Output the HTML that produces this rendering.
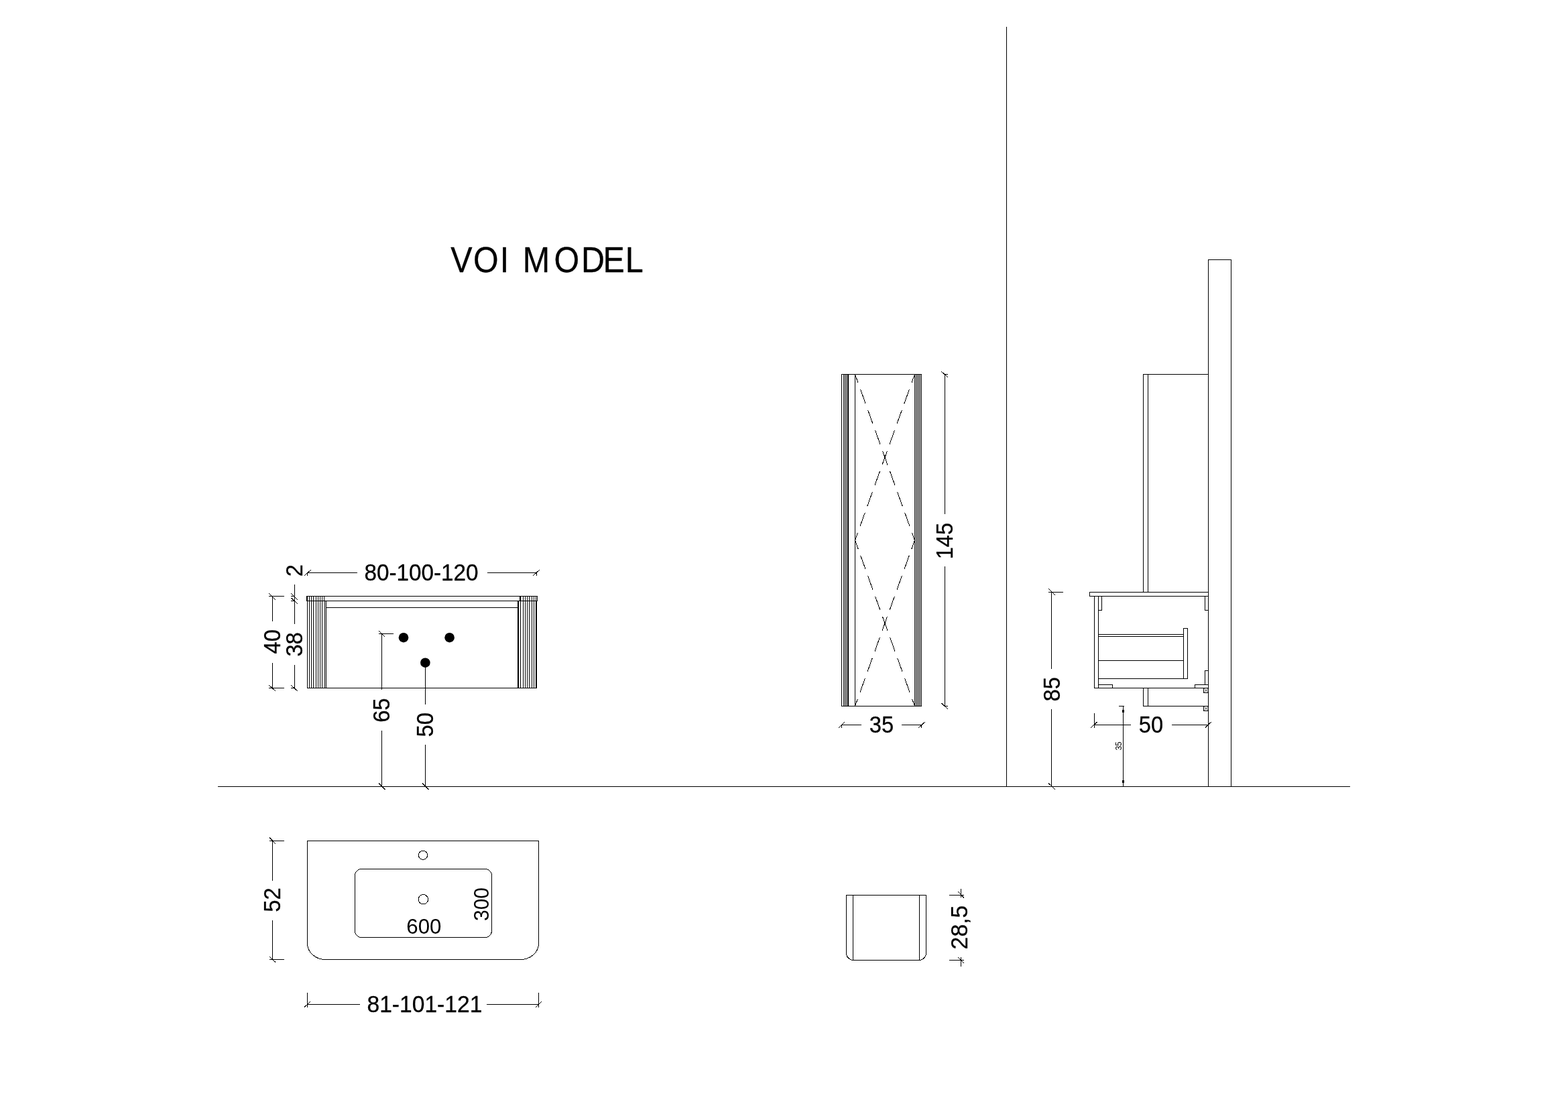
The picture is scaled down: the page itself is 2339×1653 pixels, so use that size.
<!DOCTYPE html>
<html lang="en">
<head>
<meta charset="utf-8">
<title>VOI MODEL</title>
<style>
html,body{margin:0;padding:0;background:#fff;}
body{width:2339px;height:1653px;overflow:hidden;}
svg{display:block;will-change:transform;}
svg line{stroke:#000;stroke-width:1;shape-rendering:crispEdges;fill:none;}
svg line.d{shape-rendering:crispEdges;}
svg .f{fill:#000;shape-rendering:crispEdges;}
svg path,svg circle.o,svg rect.o{stroke:#000;stroke-width:1;fill:none;shape-rendering:crispEdges;}
svg text{font-family:"Liberation Sans",sans-serif;font-size:100px;fill:#000;stroke:#000;stroke-width:0.3px;vector-effect:non-scaling-stroke;stroke-linejoin:round;}
svg text.n{stroke:none;}
</style>
</head>
<body>
<svg width="2339" height="1653" viewBox="0 0 2339 1653">
<rect x="0" y="0" width="2339" height="1653" fill="#fff"/>
<!-- title -->
<text transform="translate(0 405.51) scale(0.4845 0.5371)" x="1387.3 1457.4 1539.4 1574.3 1609.2 1705.8 1789.6 1856.8 1925.3">VOI MODEL</text>
<!-- floor, divider, wall -->
<rect x="325" y="1173" width="1689" height="1" class="f"/>
<rect x="1501" y="40" width="1" height="1134" class="f"/>
<rect x="1802" y="387" width="1" height="787" class="f"/>
<rect x="1836" y="387" width="1" height="787" class="f"/>
<rect x="1802" y="387" width="35" height="1" class="f"/>
<!-- vanity front view -->
<rect x="457" y="889" width="345" height="1" class="f"/>
<rect x="457" y="896" width="345" height="1" class="f"/>
<rect x="457" y="889" width="1" height="8" class="f"/>
<rect x="801" y="889" width="1" height="8" class="f"/>
<rect x="457" y="889" width="2" height="8" class="f"/>
<rect x="458" y="896" width="1" height="131" class="f"/>
<rect x="458" y="1026" width="343" height="1" class="f"/>
<rect x="486" y="906" width="287" height="1" class="f"/>
<rect x="461" y="889" width="1" height="138" class="f"/>
<rect x="464" y="889" width="1" height="138" class="f"/>
<rect x="467" y="889" width="1" height="138" class="f"/>
<rect x="471" y="889" width="1" height="138" class="f"/>
<rect x="474" y="889" width="1" height="138" class="f"/>
<rect x="477" y="889" width="1" height="138" class="f"/>
<rect x="480" y="889" width="1" height="138" class="f"/>
<rect x="483" y="889" width="1" height="8" class="f"/>
<rect x="484" y="896" width="1" height="131" class="f"/>
<rect x="486" y="896" width="1" height="131" class="f"/>
<rect x="780" y="889" width="1" height="138" class="f"/>
<rect x="783" y="889" width="1" height="138" class="f"/>
<rect x="786" y="889" width="1" height="138" class="f"/>
<rect x="789" y="889" width="1" height="138" class="f"/>
<rect x="793" y="889" width="1" height="138" class="f"/>
<rect x="796" y="889" width="1" height="138" class="f"/>
<rect x="775" y="889" width="2" height="8" class="f"/>
<rect x="799" y="889" width="1" height="8" class="f"/>
<rect x="772" y="896" width="2" height="131" class="f"/>
<rect x="776" y="896" width="1" height="131" class="f"/>
<rect x="799" y="896" width="2" height="131" class="f"/>
<circle cx="602" cy="951.2" r="7.3" fill="#000"/>
<circle cx="670.6" cy="951.2" r="7.3" fill="#000"/>
<circle cx="634.4" cy="988.7" r="7.3" fill="#000"/>
<!-- dim 80-100-120 -->
<rect x="458" y="854" width="75" height="1" class="f"/>
<rect x="727" y="854" width="74" height="1" class="f"/>
<rect x="458" y="854" width="1" height="5" class="f"/>
<rect x="800" y="854" width="1" height="5" class="f"/>
<line x1="454.0" y1="858.8" x2="463.8" y2="850.2" class="d" stroke-width="1.0"/>
<line x1="795.2" y1="858.8" x2="804.9" y2="850.1" class="d" stroke-width="1.0"/>
<text transform="translate(543.43 865.64) scale(0.3327 0.3430)">80-100-120</text>
<text transform="translate(451.11 860.22) rotate(-90) scale(0.3270 0.3430)">2</text>
<!-- dim 40 / 38 -->
<rect x="406" y="889" width="1" height="38" class="f"/>
<rect x="406" y="989" width="1" height="38" class="f"/>
<rect x="401" y="889" width="23" height="1" class="f"/>
<rect x="401" y="1026" width="23" height="1" class="f"/>
<line x1="401" y1="885.1" x2="411" y2="894.9" class="d" stroke-width="1.0"/>
<line x1="401" y1="1022" x2="411" y2="1031" class="d" stroke-width="1.0"/>
<text transform="translate(417.69 975.45) rotate(-90) scale(0.3270 0.3430)">40</text>
<rect x="439" y="872" width="1" height="59" class="f"/>
<rect x="439" y="992" width="1" height="35" class="f"/>
<rect x="434" y="889" width="6" height="1" class="f"/>
<rect x="434" y="896" width="6" height="1" class="f"/>
<rect x="434" y="1026" width="6" height="1" class="f"/>
<line x1="433.9" y1="885.1" x2="443.9" y2="894.9" class="d" stroke-width="1.0"/>
<line x1="433.9" y1="891.7" x2="443.9" y2="900.8" class="d" stroke-width="1.0"/>
<line x1="433.9" y1="1022" x2="443.9" y2="1031" class="d" stroke-width="1.0"/>
<text transform="translate(450.79 979.62) rotate(-90) scale(0.3270 0.3430)">38</text>
<!-- dim 65 / 50 -->
<rect x="569" y="945" width="1" height="84" class="f"/>
<rect x="569" y="1090" width="1" height="84" class="f"/>
<rect x="565" y="945" width="22" height="1" class="f"/>
<line x1="565.3" y1="941.2" x2="574" y2="949.8" class="d" stroke-width="1.0"/>
<line x1="565" y1="1168.5" x2="574.6" y2="1177.9" class="d" stroke-width="1.0"/>
<text transform="translate(580.79 1077.86) rotate(-90) scale(0.3270 0.3430)">65</text>
<rect x="634" y="989" width="1" height="62" class="f"/>
<rect x="634" y="1111" width="1" height="63" class="f"/>
<line x1="630.2" y1="1168.5" x2="639.6" y2="1177.9" class="d" stroke-width="1.0"/>
<text transform="translate(645.69 1099.39) rotate(-90) scale(0.3270 0.3430)">50</text>
<!-- tall cabinet -->
<rect x="1255" y="558" width="120" height="1" class="f"/>
<rect x="1255" y="1053" width="120" height="1" class="f"/>
<rect x="1255" y="558" width="1" height="496" class="f"/>
<rect x="1374" y="558" width="1" height="496" class="f"/>
<rect x="1258" y="558" width="1" height="496" class="f"/>
<rect x="1260" y="558" width="1" height="496" class="f"/>
<rect x="1262" y="558" width="1" height="496" class="f"/>
<rect x="1264" y="558" width="2" height="496" class="f"/>
<rect x="1275" y="558" width="1" height="496" class="f"/>
<rect x="1364" y="558" width="1" height="496" class="f"/>
<rect x="1366" y="558" width="1" height="496" class="f"/>
<rect x="1368" y="558" width="1" height="496" class="f"/>
<rect x="1370" y="558" width="1" height="496" class="f"/>
<rect x="1372" y="558" width="1" height="496" class="f"/>
<line x1="1275.5" y1="558.5" x2="1364.5" y2="806" class="d" stroke-dasharray="22 10.5" stroke-dashoffset="8.5"/>
<line x1="1364.5" y1="558.5" x2="1275.5" y2="806" class="d" stroke-dasharray="22 10.5" stroke-dashoffset="8.5"/>
<line x1="1275.5" y1="806" x2="1364.5" y2="1053.5" class="d" stroke-dasharray="22 10.5" stroke-dashoffset="8.5"/>
<line x1="1364.5" y1="806" x2="1275.5" y2="1053.5" class="d" stroke-dasharray="22 10.5" stroke-dashoffset="8.5"/>
<!-- dim 145 -->
<rect x="1409" y="558" width="1" height="209" class="f"/>
<rect x="1409" y="845" width="1" height="209" class="f"/>
<rect x="1409" y="558" width="5" height="1" class="f"/>
<rect x="1409" y="1053" width="5" height="1" class="f"/>
<line x1="1404.4" y1="554.3" x2="1413.8" y2="562.7" class="d" stroke-width="1.0"/>
<line x1="1404.2" y1="1048.9" x2="1413.6" y2="1057.5" class="d" stroke-width="1.0"/>
<text transform="translate(1420.60 834.35) rotate(-90) scale(0.3270 0.3430)">145</text>
<!-- dim 35 -->
<rect x="1255" y="1081" width="30" height="1" class="f"/>
<rect x="1345" y="1081" width="30" height="1" class="f"/>
<rect x="1255" y="1081" width="1" height="5" class="f"/>
<rect x="1374" y="1081" width="1" height="5" class="f"/>
<line x1="1251.4" y1="1085.7" x2="1259.7" y2="1077.1" class="d" stroke-width="1.0"/>
<line x1="1370.5" y1="1085.7" x2="1379.7" y2="1077.1" class="d" stroke-width="1.0"/>
<text transform="translate(1296.84 1092.74) scale(0.3270 0.3430)">35</text>
<!-- side view -->
<rect x="1705" y="558" width="1" height="326" class="f"/>
<rect x="1712" y="558" width="1" height="326" class="f"/>
<rect x="1705" y="558" width="98" height="1" class="f"/>
<rect x="1625" y="883" width="178" height="1" class="f"/>
<rect x="1625" y="889" width="178" height="1" class="f"/>
<rect x="1625" y="883" width="1" height="7" class="f"/>
<rect x="1802" y="883" width="1" height="7" class="f"/>
<rect x="1632" y="889" width="1" height="138" class="f"/>
<rect x="1638" y="889" width="1" height="138" class="f"/>
<rect x="1632" y="1026" width="171" height="1" class="f"/>
<rect x="1638" y="889" width="6" height="1" class="f"/>
<rect x="1638" y="910" width="6" height="1" class="f"/>
<rect x="1638" y="889" width="1" height="22" class="f"/>
<rect x="1643" y="889" width="1" height="22" class="f"/>
<rect x="1797" y="889" width="6" height="1" class="f"/>
<rect x="1797" y="910" width="6" height="1" class="f"/>
<rect x="1797" y="889" width="1" height="22" class="f"/>
<rect x="1802" y="889" width="1" height="22" class="f"/>
<rect x="1638" y="946" width="128" height="1" class="f"/>
<rect x="1638" y="949" width="128" height="1" class="f"/>
<rect x="1638" y="985" width="128" height="1" class="f"/>
<rect x="1638" y="1012" width="134" height="1" class="f"/>
<rect x="1765" y="937" width="7" height="1" class="f"/>
<rect x="1765" y="1012" width="7" height="1" class="f"/>
<rect x="1765" y="937" width="1" height="76" class="f"/>
<rect x="1771" y="937" width="1" height="76" class="f"/>
<rect x="1638" y="1021" width="22" height="1" class="f"/>
<rect x="1638" y="1026" width="22" height="1" class="f"/>
<rect x="1638" y="1021" width="1" height="6" class="f"/>
<rect x="1659" y="1021" width="1" height="6" class="f"/>
<rect x="1782" y="1021" width="21" height="1" class="f"/>
<rect x="1782" y="1026" width="21" height="1" class="f"/>
<rect x="1782" y="1021" width="1" height="6" class="f"/>
<rect x="1802" y="1021" width="1" height="6" class="f"/>
<rect x="1797" y="1000" width="6" height="1" class="f"/>
<rect x="1797" y="1021" width="6" height="1" class="f"/>
<rect x="1797" y="1000" width="1" height="22" class="f"/>
<rect x="1802" y="1000" width="1" height="22" class="f"/>
<rect x="1705" y="1026" width="1" height="28" class="f"/>
<rect x="1712" y="1026" width="1" height="28" class="f"/>
<rect x="1705" y="1053" width="98" height="1" class="f"/>
<rect x="1795" y="1026" width="8" height="1" class="f"/>
<rect x="1795" y="1033" width="8" height="1" class="f"/>
<rect x="1795" y="1026" width="1" height="8" class="f"/>
<rect x="1802" y="1026" width="1" height="8" class="f"/>
<rect x="1795" y="1053" width="8" height="1" class="f"/>
<rect x="1795" y="1060" width="8" height="1" class="f"/>
<rect x="1795" y="1053" width="1" height="8" class="f"/>
<rect x="1802" y="1053" width="1" height="8" class="f"/>
<path d="M1796.6 1027.2 Q1800.2 1030 1796.6 1032.8 M1801.9 1027.2 Q1798.3 1030 1801.9 1032.8" style="stroke-width:0.8;shape-rendering:auto"/>
<path d="M1796.6 1054.2 Q1800.2 1057 1796.6 1059.8 M1801.9 1054.2 Q1798.3 1057 1801.9 1059.8" style="stroke-width:0.8;shape-rendering:auto"/>
<!-- dim 85 -->
<rect x="1568" y="883" width="1" height="115" class="f"/>
<rect x="1568" y="1058" width="1" height="116" class="f"/>
<rect x="1564" y="883" width="22" height="1" class="f"/>
<line x1="1564.4" y1="878.5" x2="1573.7" y2="887.7" class="d" stroke-width="1.0"/>
<line x1="1564" y1="1168.4" x2="1573.7" y2="1177.7" class="d" stroke-width="1.0"/>
<text transform="translate(1580.64 1046.39) rotate(-90) scale(0.3270 0.3430)">85</text>
<!-- dim 50 (side) -->
<rect x="1632" y="1081" width="55" height="1" class="f"/>
<rect x="1748" y="1081" width="55" height="1" class="f"/>
<rect x="1632" y="1064" width="1" height="22" class="f"/>
<line x1="1627.2" y1="1085.5" x2="1636.9" y2="1076.9" class="d" stroke-width="1.0"/>
<line x1="1798" y1="1085.5" x2="1806.9" y2="1076.9" class="d" stroke-width="1.0"/>
<text transform="translate(1698.79 1092.74) scale(0.3270 0.3430)">50</text>
<!-- small dim 35 -->
<rect x="1675" y="1053" width="1" height="121" class="f"/>
<rect x="1669" y="1053" width="8" height="1" class="f"/>
<path d="M1675.5 1053 L1677.2 1062.5 L1673.8 1062.5 Z" style="fill:#000;stroke:none"/>
<path d="M1675.5 1173 L1677.2 1164 L1673.8 1164 Z" style="fill:#000;stroke:none"/>
<text transform="translate(1672.77 1119.33) rotate(-90) scale(0.1153 0.1258)" class="n">35</text>
<!-- basin plan -->
<path d="M458.5 1254.5 H803.5 V1407.5 A27 24 0 0 1 776.5 1431.5 H485.5 A27 24 0 0 1 458.5 1407.5 Z"/>
<rect class="o" x="529.5" y="1296.5" width="204" height="102" rx="9.5" ry="9.5"/>
<circle class="o" cx="631" cy="1275.7" r="6.6"/>
<circle class="o" cx="631.4" cy="1341.8" r="7.2"/>
<text transform="translate(606.34 1392.69) scale(0.3127 0.3138)" class="n">600</text>
<text transform="translate(728.69 1374.03) rotate(-90) scale(0.3002 0.3110)" class="n">300</text>
<!-- dim 52 -->
<rect x="406" y="1254" width="1" height="60" class="f"/>
<rect x="406" y="1373" width="1" height="59" class="f"/>
<rect x="402" y="1254" width="22" height="1" class="f"/>
<rect x="402" y="1431" width="22" height="1" class="f"/>
<line x1="402" y1="1249.4" x2="410.7" y2="1258.7" class="d" stroke-width="1.0"/>
<line x1="402" y1="1426.8" x2="410.7" y2="1435.4" class="d" stroke-width="1.0"/>
<text transform="translate(417.64 1360.78) rotate(-90) scale(0.3270 0.3430)">52</text>
<!-- dim 81-101-121 -->
<rect x="458" y="1498" width="79" height="1" class="f"/>
<rect x="726" y="1498" width="78" height="1" class="f"/>
<rect x="458" y="1481" width="1" height="22" class="f"/>
<rect x="803" y="1481" width="1" height="22" class="f"/>
<line x1="454.1" y1="1502.5" x2="463.1" y2="1494.1" class="d" stroke-width="1.0"/>
<line x1="799.4" y1="1502.5" x2="807.8" y2="1494.1" class="d" stroke-width="1.0"/>
<text transform="translate(547.51 1509.74) scale(0.3360 0.3430)">81-101-121</text>
<!-- small cabinet plan -->
<path d="M1262.5 1335.5 H1381.5 V1422 A10.5 10.5 0 0 1 1371 1432.5 H1273 A10.5 10.5 0 0 1 1262.5 1422 Z"/>
<rect x="1272" y="1335" width="1" height="98" class="f"/>
<rect x="1371" y="1335" width="1" height="98" class="f"/>
<!-- dim 28,5 -->
<rect x="1416" y="1335" width="22" height="1" class="f"/>
<rect x="1416" y="1432" width="22" height="1" class="f"/>
<rect x="1433" y="1326" width="1" height="13" class="f"/>
<rect x="1433" y="1428" width="1" height="14" class="f"/>
<line x1="1429.3" y1="1330.3" x2="1438" y2="1339.6" class="d" stroke-width="1.0"/>
<line x1="1429.3" y1="1428.5" x2="1438" y2="1436.8" class="d" stroke-width="1.0"/>
<text transform="translate(1442.74 1416.38) rotate(-90) scale(0.3380 0.3430)">28,5</text>
</svg>
</body>
</html>
